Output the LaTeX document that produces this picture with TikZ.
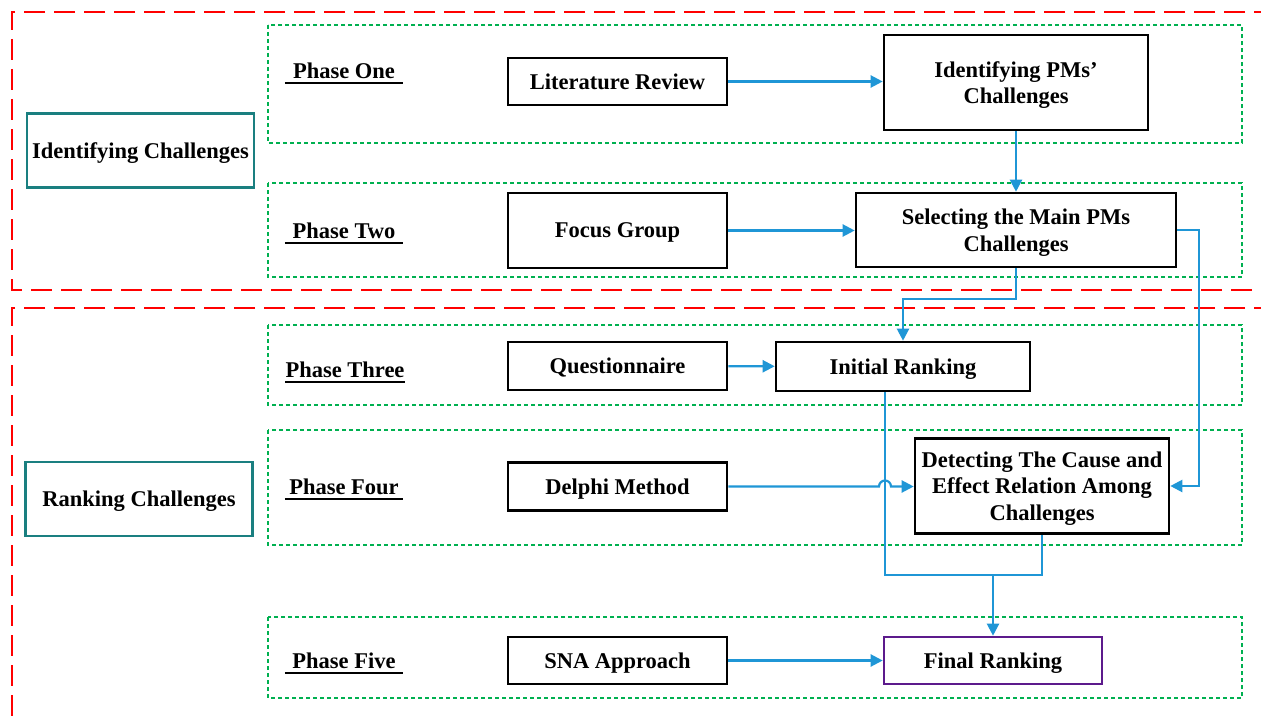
\documentclass[tikz,border=0pt]{standalone}
\usepackage{fontspec}
\setmainfont{Liberation Serif}
\usetikzlibrary{positioning,arrows.meta}

\definecolor{dashred}{HTML}{FF0000}
\definecolor{dotgreen}{HTML}{00B050}
\definecolor{stageteal}{HTML}{1A7F80}
\definecolor{flowblue}{HTML}{1F96D6}
\definecolor{finalpurple}{HTML}{5C1A8C}

\tikzset{
  stage/.style={draw=stageteal, line width=2.6pt, minimum width=227pt, minimum height=74pt, inner sep=0pt, text depth=0pt},
  task/.style={draw, line width=2.6pt, align=center, inner sep=0pt, text depth=0pt},
  phase/.style={inner xsep=0pt, minimum width=118pt, inner ysep=5pt, text depth=0pt, anchor=base},
  phaseframe/.style={dotgreen, line width=2pt, dash pattern=on 4pt off 3pt},
  sectionline/.style={dashred, line width=2.6pt, dash pattern=on 21pt off 9pt},
  flowline/.style={flowblue, line width=2.2pt},
  flow/.style={flowline, -{Triangle[length=12pt,width=12pt]}}
}

\begin{document}
\begin{tikzpicture}[x=1pt, y=-1pt, font=\bfseries\fontsize{22.5}{26.5}\selectfont]
      \useasboundingbox (0,0) rectangle (1261,725);

      % Two stages
      \draw[sectionline] (1275,12) -- (12,12) -- (12,290) -- (1275,290);
      \draw[sectionline] (1275,308) -- (12,308) -- (12,740);

      % Phase frames
      \draw[phaseframe] (268,25) rectangle (1242,143);
      \draw[phaseframe] (268,183) rectangle (1242,277);
      \draw[phaseframe] (268,325) rectangle (1242,405);
      \draw[phaseframe] (268,430) rectangle (1242,545);
      \draw[phaseframe] (268,617) rectangle (1242,698);

      \node[stage] (idch) at (140.5,150.5) {Identifying Challenges};
      \node[stage] (rkch) at (139,499) {Ranking Challenges};

      \node[phase] (ph1) at (344,78) {Phase One};
      \node[phase] (ph2) at (344,238) {Phase Two};
      \node[phase] (ph3) at (345,377) {Phase Three};
      \node[phase] (ph4) at (344,494) {Phase Four};
      \node[phase] (ph5) at (344,668) {Phase Five};
      \foreach \p in {ph1,ph2,ph3,ph4,ph5}
        \draw[line width=1.8pt] (\p.south west) -- (\p.south east);

      % Steps
      \node[task, minimum width=219pt, minimum height=47pt] (litrev) at (617.5,81.5) {Literature Review};
      \node[task, minimum width=264pt, minimum height=95pt] (idpm) at (1016,82.5) {Identifying PMs’\\Challenges};
      \node[task, minimum width=219pt, minimum height=75pt] (focus) at (617.5,230.5) {Focus Group};
      \node[task, minimum width=320pt, minimum height=74pt] (selpm) at (1016,230) {Selecting the Main PMs\\Challenges};
      \node[task, minimum width=219pt, minimum height=48pt] (quest) at (617.5,366) {Questionnaire};
      \node[task, minimum width=254pt, minimum height=49pt] (initrk) at (903,366.5) {Initial Ranking};
      \node[task, minimum width=219pt, minimum height=48pt] (delphi) at (617.5,486.5) {Delphi Method};
      \node[task, minimum width=254pt, minimum height=95pt] (cause) at (1042,486) {Detecting The Cause and\\Effect Relation Among\\Challenges};
      \node[task, minimum width=219pt, minimum height=47pt] (sna) at (617.5,660.5) {SNA Approach};
      \node[task, draw=finalpurple, minimum width=218pt, minimum height=47pt] (final) at (993,660.5) {Final Ranking};

      \coordinate (drop) at ([xshift=-18pt]initrk.south);
      \coordinate (merge) at (993,575);

      % Flow
      \draw[flow] (litrev.east) -- (litrev.east -| idpm.west);
      \draw[flow] (idpm) -- (selpm);
      \draw[flow] (focus.east) -- (focus.east -| selpm.west);
      \draw[flow] (selpm.south) -- ++(0,31) -| (initrk.north);
      \draw[flow] (selpm.east) -- ++(22,0) |- (cause.east);
      \draw[flow] (quest) -- (initrk);
      \draw[flow] (delphi.east) -- ([xshift=-6pt]drop |- delphi.east) arc[start angle=180, end angle=0, radius=6pt] -- (delphi.east -| cause.west);
      \draw[flowline] (drop) |- (merge) -| (cause.south);
      \draw[flow] (merge) -- (final);
      \draw[flow] (sna) -- (final);

      \end{tikzpicture}
\end{document}
